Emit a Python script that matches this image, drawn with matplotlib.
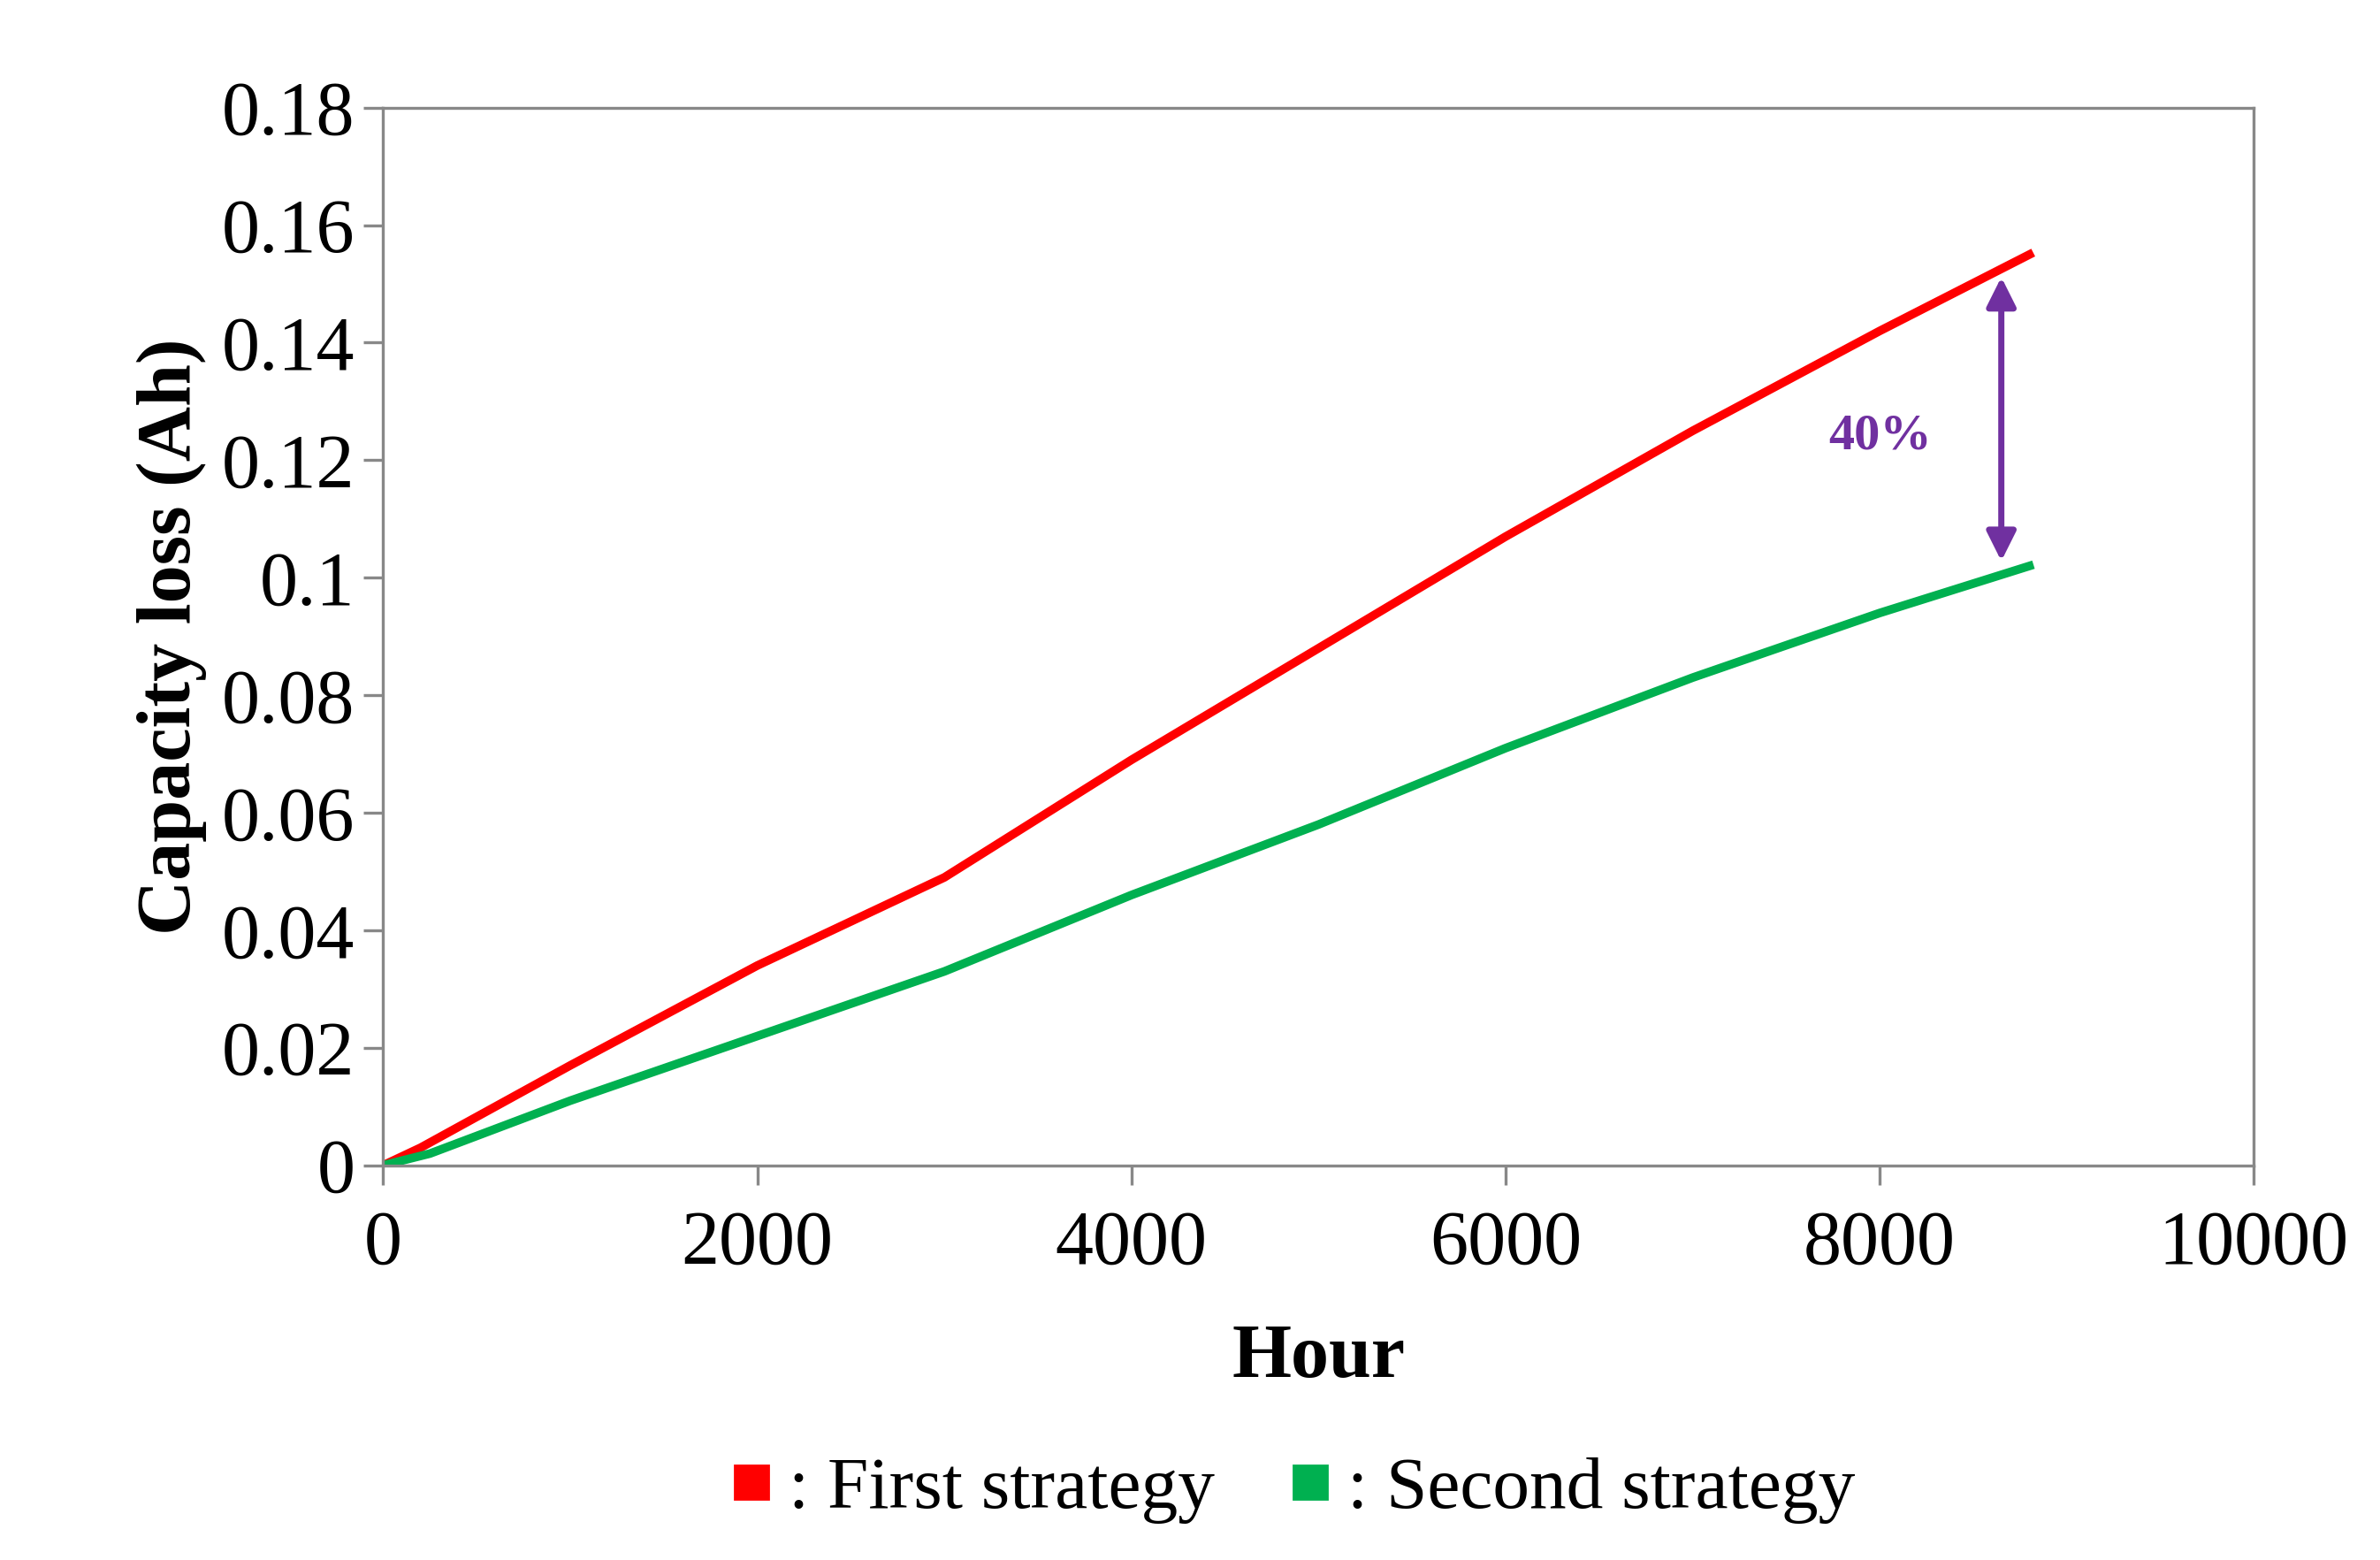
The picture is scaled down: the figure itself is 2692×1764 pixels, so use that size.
import matplotlib.pyplot as plt
from matplotlib.lines import Line2D

hours_first = [0, 200, 1000, 2000, 2400, 3000, 4000, 5000, 6000, 7000, 8000, 8800]
loss_first = [0, 0.003, 0.017, 0.034, 0.040, 0.049, 0.069, 0.088, 0.107, 0.125, 0.142, 0.155]
hours_second = [0, 250, 1000, 2000, 3000, 4000, 5000, 6000, 7000, 8000, 8800]
loss_second = [0, 0.002, 0.011, 0.022, 0.033, 0.046, 0.058, 0.071, 0.083, 0.094, 0.102]

plt.rcParams['font.family'] = ['Liberation Serif', 'DejaVu Serif']
fig = plt.figure(figsize=(13.46, 8.82), dpi=200)
ax = fig.add_axes([0.161, 0.253, 0.786, 0.678])
ax.plot(hours_first, loss_first, color='#ff0000', lw=3.5)
ax.plot(hours_second, loss_second, color='#00b050', lw=3.5)
ax.set_xlim(0, 10000)
ax.set_ylim(0, 0.18)
ax.set_xticks(range(0, 10001, 2000))
ax.set_yticks([i * 0.02 for i in range(10)])
ax.set_yticklabels(['%g' % round(i * 0.02, 2) for i in range(10)])
ax.tick_params(labelsize=31, direction='out', length=8, width=1.2, color='#888888')
ax.tick_params(axis='x', pad=10)
for s in ax.spines.values():
    s.set_color('#888888')
    s.set_linewidth(1.2)
ax.set_xlabel('Hour', fontsize=31, fontweight='bold', labelpad=18)
ax.set_ylabel('Capacity loss (Ah)', fontsize=31, fontweight='bold', labelpad=6)

ax.annotate('', xy=(8650, 0.102), xytext=(8650, 0.152),
            arrowprops=dict(arrowstyle='<|-|>', color='#7030a0', lw=2.5, mutation_scale=25))
ax.text(8000, 0.124, '40%', color='#7030a0', fontsize=21, fontweight='bold', ha='center', va='center')

handles = [Line2D([], [], ls='', marker='s', color='#ff0000', markersize=14),
           Line2D([], [], ls='', marker='s', color='#00b050', markersize=14)]
fig.legend(handles, [': First strategy', ': Second strategy'], loc='center',
           bbox_to_anchor=(0.54, 0.045), ncol=2, frameon=False, fontsize=30,
           handletextpad=0.0, columnspacing=0.8, handlelength=1.0)
fig.savefig('out.png')
